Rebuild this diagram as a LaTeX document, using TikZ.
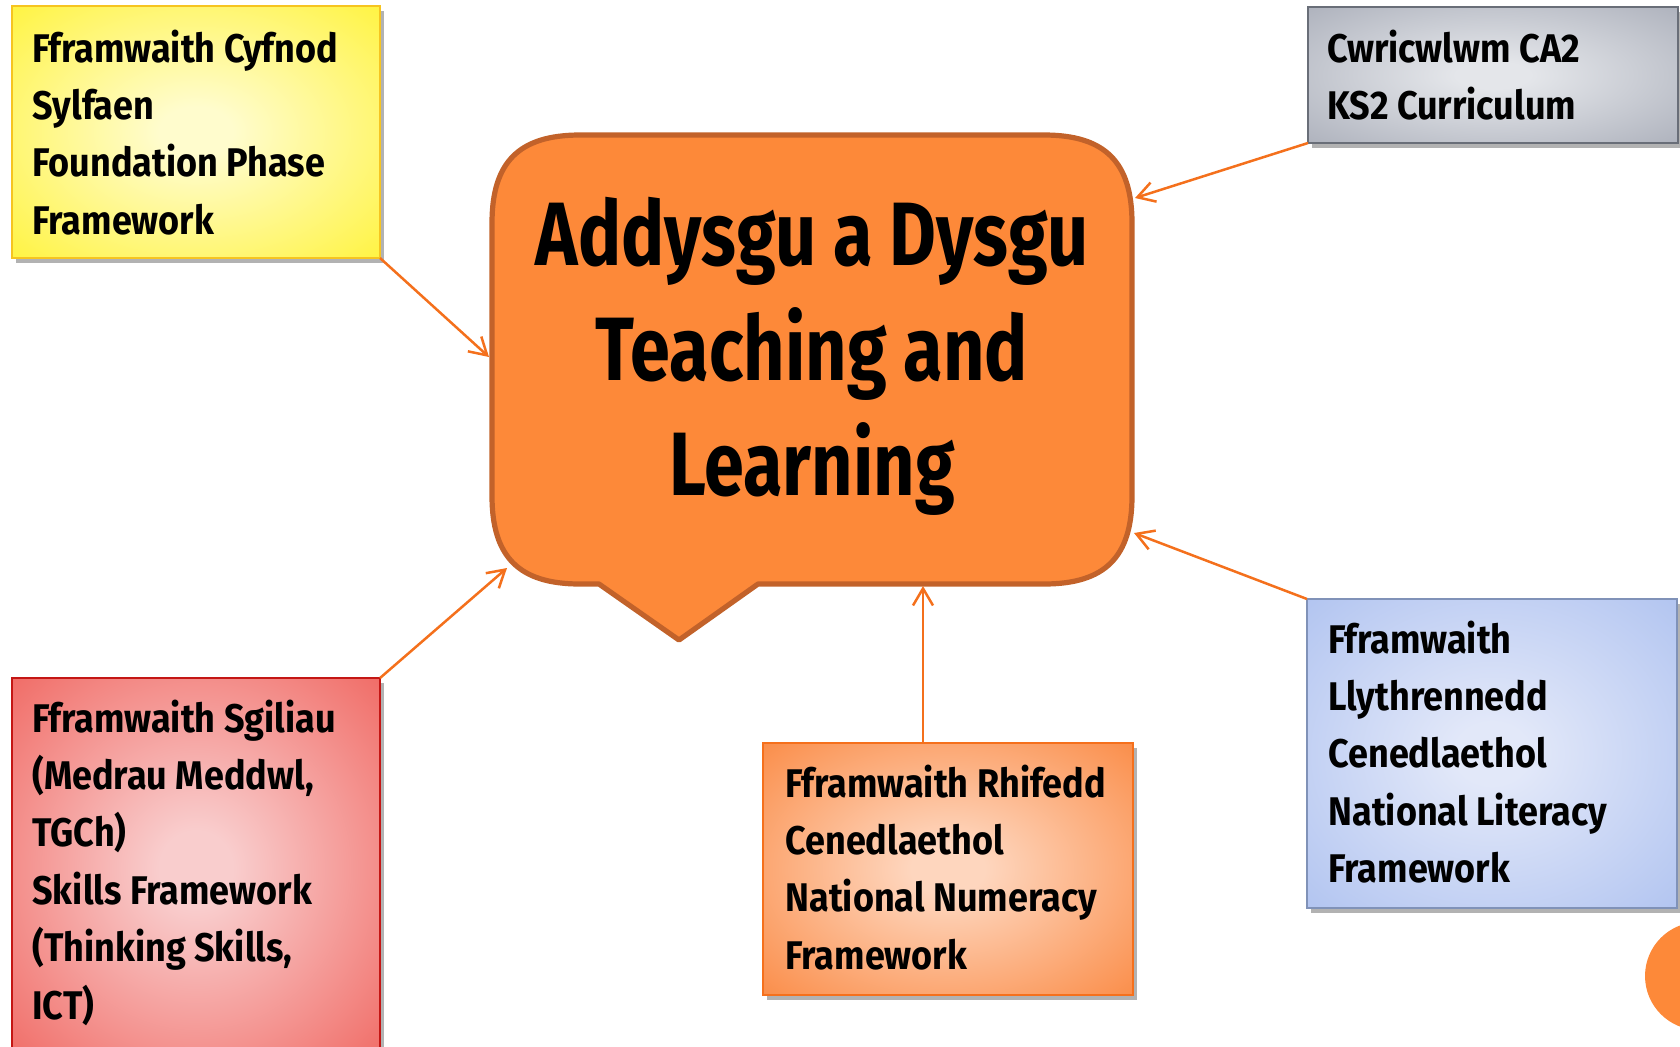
\documentclass[tikz,border=0pt]{standalone}
\usepackage{fontspec}
\setmainfont{Fira Sans}[FakeStretch=0.9]
\newfontfamily\mainfam{Fira Sans}[FakeStretch=0.8]
\usetikzlibrary{shadows,arrows.meta,calc}
\definecolor{arrowc}{RGB}{244,112,28}
\definecolor{callfill}{RGB}{253,137,57}
\definecolor{callline}{RGB}{194,98,42}
\definecolor{yelin}{RGB}{255,252,205}
\definecolor{yelout}{RGB}{255,243,60}
\definecolor{yelline}{RGB}{246,196,32}
\definecolor{grin}{RGB}{228,230,234}
\definecolor{grout}{RGB}{172,176,187}
\definecolor{grline}{RGB}{105,110,120}
\definecolor{blin}{RGB}{226,232,249}
\definecolor{blout}{RGB}{176,195,240}
\definecolor{blline}{RGB}{128,146,184}
\definecolor{rdin}{RGB}{249,205,205}
\definecolor{rdout}{RGB}{240,104,98}
\definecolor{rdline}{RGB}{196,22,20}
\definecolor{orin}{RGB}{254,214,190}
\definecolor{orout}{RGB}{250,138,68}
\definecolor{orline}{RGB}{245,112,28}
\pgfdeclareradialshading{yelshade}{\pgfpoint{0bp}{0bp}}{color(0bp)=(yelin); color(5bp)=(yelin); color(37bp)=(yelout); color(50bp)=(yelout)}
\pgfdeclareradialshading{gryshade}{\pgfpoint{0bp}{0bp}}{color(0bp)=(grin); color(5bp)=(grin); color(37bp)=(grout); color(50bp)=(grout)}
\pgfdeclareradialshading{blushade}{\pgfpoint{0bp}{0bp}}{color(0bp)=(blin); color(5bp)=(blin); color(37bp)=(blout); color(50bp)=(blout)}
\pgfdeclareradialshading{redshade}{\pgfpoint{0bp}{0bp}}{color(0bp)=(rdin); color(5bp)=(rdin); color(37bp)=(rdout); color(50bp)=(rdout)}
\pgfdeclareradialshading{orgshade}{\pgfpoint{0bp}{0bp}}{color(0bp)=(orin); color(5bp)=(orin); color(37bp)=(orout); color(50bp)=(orout)}
\tikzset{
  infobox/.style={rectangle, inner sep=0pt, outer sep=0pt, line width=1pt,
    drop shadow={shadow xshift=2pt, shadow yshift=-2.5pt, opacity=0.3, fill=black}},
  boxtext/.style={anchor=base west, inner sep=0pt, align=left,
    font=\fontsize{20pt}{28.7pt}\selectfont\bfseries},
  link/.style={draw=arrowc, line width=1.25pt, -{Straight Barb[length=8.5pt,width=10pt]}}
}
\begin{document}
\begin{tikzpicture}[x=0.5pt,y=-0.5pt]
\useasboundingbox (0,0) rectangle (1680,1046);
% corner circle
\fill[callfill] (1699,976) circle[radius=54];
% boxes (text nodes anchored on their last baseline)
\node[infobox, draw=yelline, shading=yelshade,
      minimum width=184pt, minimum height=126pt] (yel) at (196,132) {};
\node[boxtext] (yelt) at (32,234.2) {Fframwaith Cyfnod\\Sylfaen\\Foundation Phase\\Framework};
\node[infobox, draw=grline, shading=gryshade,
      minimum width=185pt, minimum height=68pt] (gry) at (1493,75) {};
\node[boxtext] (gryt) at (1327,119.4) {Cwricwlwm CA2\\KS2 Curriculum};
\node[infobox, draw=blline, shading=blushade,
      minimum width=185pt, minimum height=154.5pt] (blu) at (1492,753.5) {};
\node[boxtext] (blut) at (1328,882.6) {Fframwaith\\Llythrennedd\\Cenedlaethol\\National Literacy\\Framework};
\node[infobox, draw=rdline, shading=redshade,
      minimum width=184pt, minimum height=191pt] (red) at (196,869) {};
\node[boxtext] (redt) at (32,1019) {Fframwaith Sgiliau\\(Medrau Meddwl,\\TGCh)\\Skills Framework\\(Thinking Skills,\\ICT)};
\node[infobox, draw=orline, shading=orgshade,
      minimum width=185pt, minimum height=126pt] (org) at (948,869) {};
\node[boxtext] (orgt) at (785,969.2) {Fframwaith Rhifedd\\Cenedlaethol\\National Numeracy\\Framework};
% callout
\draw[fill=callfill, draw=callline, line width=2.6pt, line join=round]
  (580,135) -- (1044,135) .. controls (1105,135) and (1132,162) .. (1132,223)
  -- (1132,496) .. controls (1132,557) and (1105,584) .. (1044,584)
  -- (758,584) -- (679,640) -- (599,584) -- (580,584)
  .. controls (519,584) and (492,557) .. (492,496)
  -- (492,223) .. controls (492,162) and (519,135) .. (580,135) -- cycle;
\node[anchor=base, inner sep=0pt, align=center,
      font=\fontsize{45pt}{57.3pt}\mainfam\bfseries] (main) at (812,495)
  {Addysgu a Dysgu\\Teaching and\\Learning};
% arrow targets
\coordinate (tipY) at (489,357);
\coordinate (tipG) at (1135,198);
\coordinate (tipB) at (1134,533);
\coordinate (tipR) at (507,568);
\coordinate (tipO) at (923,586);
% connectors
\draw[link] (yel.south east) -- (tipY);
\draw[link] (gry.south west) -- (tipG);
\draw[link] (blu.north west) -- (tipB);
\draw[link] (red.north east) -- (tipR);
\draw[link] (tipO |- org.north) -- (tipO);
\end{tikzpicture}
\end{document}
